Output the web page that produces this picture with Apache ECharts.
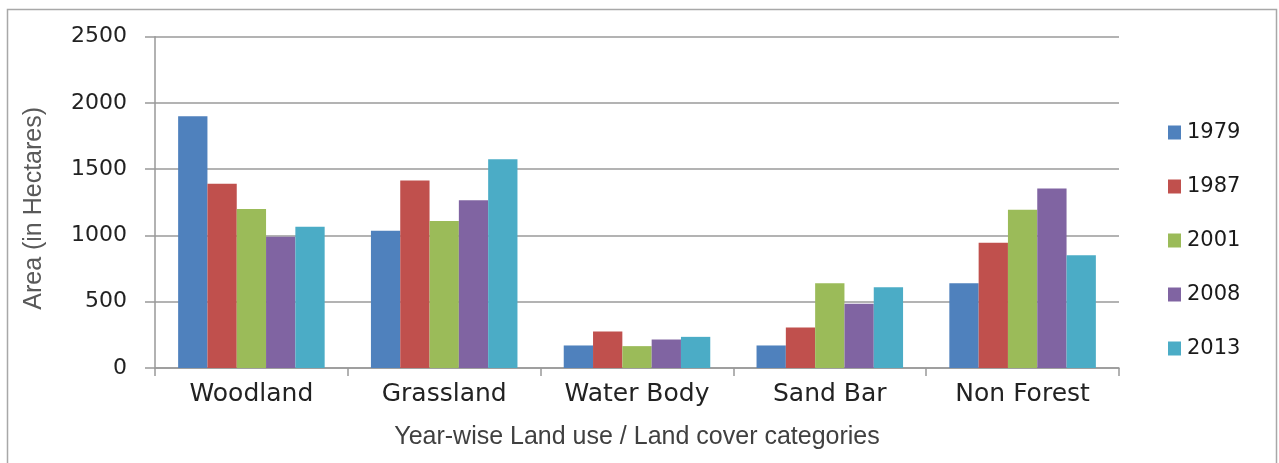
<!DOCTYPE html>
<html>
<head>
<meta charset="utf-8">
<script src="https://cdn.jsdelivr.net/npm/echarts@6/dist/echarts.min.js"></script>
<style>
html,body{margin:0;padding:0;background:#fff;}
#c{width:1279px;height:463px;}
</style>
</head>
<body>
<div id="c"></div>
<script>
var categories = ['Woodland', 'Grassland', 'Water Body', 'Sand Bar', 'Non Forest'];
var years = ['1979', '1987', '2001', '2008', '2013'];
var s1979 = [1900, 1035, 170, 170, 640];
var s1987 = [1390, 1415, 275, 305, 945];
var s2001 = [1200, 1110, 165, 640, 1195];
var s2008 = [990, 1265, 215, 485, 1355];
var s2013 = [1065, 1575, 235, 610, 850];
var yTicks = [0, 500, 1000, 1500, 2000, 2500];
var colors = ['#4F81BD', '#C0504D', '#9BBB59', '#8064A2', '#4BACC6'];
var seriesValues = [s1979, s1987, s2001, s2008, s2013];

var chart = echarts.init(document.getElementById('c'));
var series = years.map(function (y, i) {
  return {
    name: y,
    type: 'bar',
    data: seriesValues[i],
    barGap: '0%',
    barCategoryGap: '24%',
    itemStyle: { color: colors[i] }
  };
});
chart.setOption({
  animation: false,
  backgroundColor: '#ffffff',
  color: colors,
  graphic: [{
    type: 'rect',
    shape: { x: 7.5, y: 9.5, width: 1269, height: 470 },
    style: { fill: 'none', stroke: '#a8a8a8', lineWidth: 1.5 },
    silent: true
  }],
  grid: { left: 155, right: 160, top: 36.7, bottom: 95, containLabel: false },
  legend: {
    orient: 'vertical',
    left: 1163,
    top: 117,
    itemWidth: 13,
    itemHeight: 14,
    itemGap: 33,
    icon: 'rect',
    data: years,
    textStyle: {
      fontFamily: 'DejaVu Sans',
      fontSize: 21,
      color: '#1a1a1a',
      padding: [0, 0, 0, 1]
    }
  },
  xAxis: {
    type: 'category',
    data: categories,
    name: 'Year-wise Land use / Land cover categories',
    nameLocation: 'middle',
    nameGap: 57,
    nameTextStyle: { fontFamily: 'Liberation Sans', fontSize: 25, color: '#404040' },
    axisLine: { show: true, lineStyle: { color: '#999', width: 1.5 } },
    axisTick: { show: true, length: 8, lineStyle: { color: '#999', width: 1.5 } },
    axisLabel: { fontFamily: 'DejaVu Sans', fontSize: 25, color: '#222', margin: 14 }
  },
  yAxis: {
    type: 'value',
    min: 0,
    max: 2500,
    interval: 500,
    name: 'Area (in Hectares)',
    nameLocation: 'middle',
    nameGap: 108,
    nameTextStyle: { fontFamily: 'Liberation Sans', fontSize: 25, color: '#595959', padding: [0, 12, 0, 0] },
    axisLine: { show: true, lineStyle: { color: '#999', width: 1.5 } },
    axisTick: { show: true, length: 10, lineStyle: { color: '#999', width: 1.5 } },
    splitLine: { show: true, lineStyle: { color: '#9a9a9a', width: 1.5 } },
    axisLabel: {
      fontFamily: 'DejaVu Sans', fontSize: 22, color: '#222', margin: 28,
      formatter: function (v) { return yTicks.indexOf(v) >= 0 ? String(v) : ''; }
    }
  },
  series: series
});
</script>
</body>
</html>
